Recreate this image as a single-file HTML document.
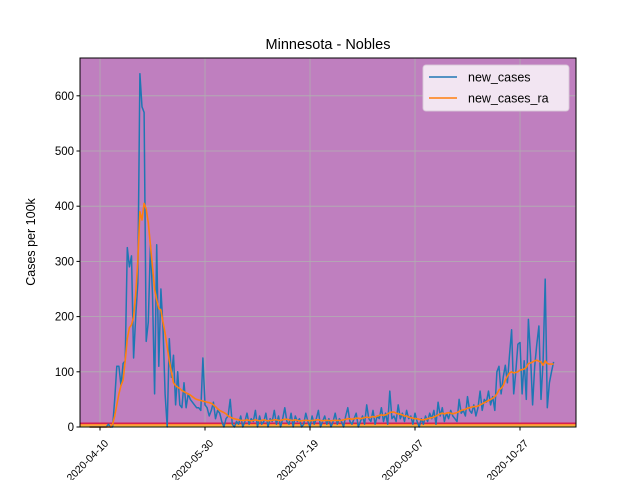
<!DOCTYPE html>
<html><head><meta charset="utf-8"><style>body{margin:0;background:#fff}svg{display:block;font-family:"Liberation Sans","DejaVu Sans",sans-serif}</style></head>
<body>
<svg id="chart" width="640" height="480">
<rect width="640" height="480" fill="#fff"/>
</svg>
<script>
const startDate = "2020-04-05";
const newCases = [0,0,0,0,0,
0,0,0,0,5,0,0,50,110,110,75,115,120,325,290,310,125,200,260,640,580,
570,155,190,330,240,60,330,110,250,180,60,0,160,90,130,40,100,40,35,80,35,60,50,45,40,35,35,30,125,40,35,
20,30,45,15,30,25,10,0,15,20,50,5,0,10,5,20,0,10,25,5,15,10,30,0,20,5,10,25,0,15,
10,30,5,20,0,15,35,10,5,25,0,20,10,15,0,5,25,10,0,20,5,15,30,0,10,20,5,15,0,10,25,
5,15,10,0,20,35,10,5,15,25,0,10,20,5,40,15,10,30,5,20,15,35,10,25,5,65,15,20,10,40,15,
25,10,30,15,20,5,25,10,0,15,5,20,10,25,15,30,5,45,20,35,10,25,15,30,20,15,10,50,25,30,
20,55,30,25,40,20,35,65,30,50,45,65,40,55,30,100,110,60,90,112,80,130,176,60,100,150,153,60,120,50,195,
130,40,110,150,183,50,120,268,35,80,100,118];
const newCasesRa = [0,0,0,0,0,
0,0,0,0,0,0,5,20,40,60,75,85,120,160,180,185,200,240,300,390,375,
405,395,370,330,290,250,230,215,212,190,170,145,120,100,80,75,72,70,66,64,62,60,58,55,52,50,49,48,47,46,45,
44,43,40,37,33,30,28,26,24,20,18,16,15,14,13,12,12,12,13,12,11,12,13,12,11,12,13,12,11,12,
12,13,13,12,12,13,14,14,13,12,12,13,12,11,11,12,12,12,11,12,12,13,13,12,11,12,12,12,11,12,12,
12,12,12,13,14,15,15,14,15,16,16,15,16,17,18,17,18,19,18,20,21,22,21,22,24,26,27,27,25,24,23,
22,20,20,18,17,16,15,15,14,13,13,14,15,16,17,18,20,22,24,25,24,25,26,25,24,25,26,28,30,31,
32,34,35,36,37,37,38,40,42,44,46,48,50,52,55,60,67,70,75,85,92,98,100,98,99,100,103,104,105,108,115,
116,118,120,121,119,118,112,120,115,114,114,114];
const yTicks = [0,100,200,300,400,500,600];
const xTickLabels = ["2020-04-10","2020-05-30","2020-07-19","2020-09-07","2020-10-27"];

const NS="http://www.w3.org/2000/svg";
const svg=document.getElementById('chart');
const L=80,R=576,T=58,B=427;
const day0=Date.parse("2020-04-10");
const DAY=86400000;
function xDays(d){return 100+d*2.1;}
function xDate(s){return xDays((Date.parse(s)-day0)/DAY);}
const startOff=(Date.parse(startDate)-day0)/DAY;
function xIdx(i){return xDays(startOff+i);}
function y(v){return B-v*0.552;}
function mk(tag,attrs,parent){const e=document.createElementNS(NS,tag);for(const k in attrs)e.setAttribute(k,attrs[k]);(parent||svg).appendChild(e);return e;}

const bg=mk('rect',{x:L,y:T,width:R-L,height:B-T,fill:'#bf7fbf'});


yTicks.forEach(v=>{const g=mk('line',{x1:L,x2:R,y1:y(v),y2:y(v),stroke:'#b0b0b0','stroke-width':0.8});

});
xTickLabels.forEach(s=>{const g=mk('line',{x1:xDate(s),x2:xDate(s),y1:T,y2:B,stroke:'#b0b0b0','stroke-width':0.8});

});
const b1=mk('rect',{x:L,y:422.5,width:R-L,height:1.5,fill:'#d62050'});


const b2=mk('rect',{x:L,y:424,width:R-L,height:1.6,fill:'#ff8c30'});


const b3=mk('rect',{x:L,y:425.6,width:R-L,height:1.4,fill:'#f5d040'});


function pts(arr){return arr.map((v,i)=>xIdx(i).toFixed(1)+','+y(v).toFixed(1)).join(' ');}
const s1=mk('polyline',{points:pts(newCases),fill:'none',stroke:'#1f77b4','stroke-width':1.5,'stroke-linejoin':'round'});


const s2=mk('polyline',{points:pts(newCasesRa),fill:'none',stroke:'#ff7f0e','stroke-width':1.6,'stroke-linejoin':'round'});


const fr=mk('rect',{x:L,y:T,width:R-L,height:B-T,fill:'none',stroke:'#000','stroke-width':1});


yTicks.forEach(v=>{mk('line',{x1:L-3.5,x2:L,y1:y(v),y2:y(v),stroke:'#000'});
const t=mk('text',{x:L-6,y:y(v)+4,'text-anchor':'end','font-size':11.5});t.textContent=v;

});
xTickLabels.forEach(s=>{const x=xDate(s);mk('line',{x1:x,x2:x,y1:B,y2:B+3.5,stroke:'#000'});
const t=mk('text',{x:x+9,y:B+17,'text-anchor':'end','font-size':10.5,transform:`rotate(-45 ${x+9} ${B+17})`});t.textContent=s;

});
const ti=mk('text',{x:328,y:49,'text-anchor':'middle','font-size':14.5});ti.textContent='Minnesota - Nobles';


const yl=mk('text',{x:35,y:242,'text-anchor':'middle','font-size':12.5,transform:'rotate(-90 35 242)'});yl.textContent='Cases per 100k';


const lg=mk('g',{});


mk('rect',{x:423,y:65,width:146,height:46,rx:3,fill:'#f2e5f2',stroke:'#d8c8d8','stroke-opacity':0.9},lg);
[['new_cases','#1f77b4',77],['new_cases_ra','#ff7f0e',98]].forEach(([n,c,yy])=>{
const e=mk('g',{},lg);


mk('line',{x1:429,x2:457,y1:yy,y2:yy,stroke:c,'stroke-width':1.5},e);
const t=mk('text',{x:468,y:yy+4.5,'font-size':12.5},e);t.textContent=n;});
</script>
</body></html>
